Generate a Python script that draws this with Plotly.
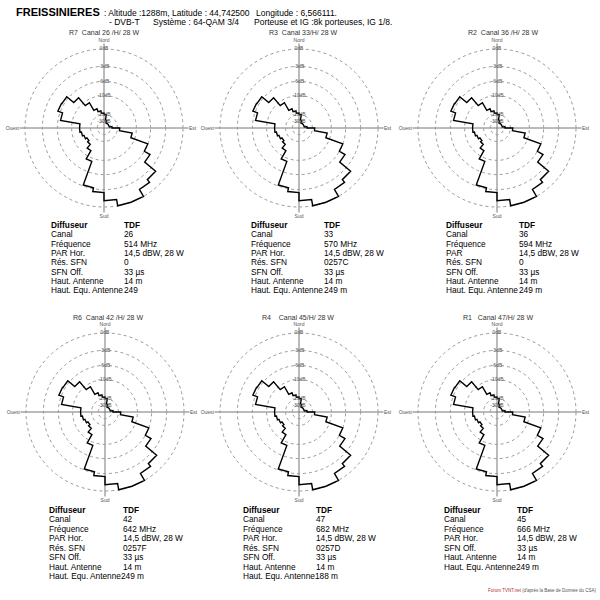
import numpy as np
import plotly.graph_objects as go

# ---------------- data ----------------
ring_db = [0, -3, -6, -10, -20, -30]
ring_labels = ["0dB", "-3dB", "-6dB", "-10dB", "-20dB", "-30dB"]
# display scale of the original diagram (dB -> relative radius)
scale_db = [-40, -30, -20, -10, -6, -3, 0]
scale_r = [0.0, 0.085, 0.17, 0.41, 0.59, 0.78, 1.0]

sector_start = list(range(0, 360, 10))
# horizontal pattern attenuation (dB) per 10 degree sector
pattern_db = [-20, -28, -32, -32, -32, -32, -32, -32, -28, -18.8,
              -12, -6, -4.7, -2, -1.4, 0, 0, -1.1,
              -2.5, -3.2, -9.1, -13.3, -15.8, -16.7, -15.8, -15, -14.2,
              -14.2, -6.7, -5.5, -5.6, -8, -11.7, -16.3, -17.9, -19.2]

titles = ["R7  Canal 26 /H/ 28 W", "R3  Canal 33/H/ 28 W", "R2  Canal 36 /H/ 28 W",
          "R6  Canal 42 /H/ 28 W", "R4    Canal 45/H/ 28 W", "R1   Canal 47/H/ 28 W"]

tables = [
    [("Diffuseur", "TDF"), ("Canal", "26"), ("Fréquence", "514 MHz"), ("PAR Hor.", "14,5 dBW, 28 W"),
     ("Rés. SFN", "0"), ("SFN Off.", "33 µs"), ("Haut. Antenne", "14 m"), ("Haut. Equ. Antenne", "249")],
    [("Diffuseur", "TDF"), ("Canal", "33"), ("Fréquence", "570 MHz"), ("PAR Hor.", "14,5 dBW, 28 W"),
     ("Rés. SFN", "0257C"), ("SFN Off.", "33 µs"), ("Haut. Antenne", "14 m"), ("Haut. Equ. Antenne", "249 m")],
    [("Diffuseur", "TDF"), ("Canal", "36"), ("Fréquence", "594 MHz"), ("PAR", "14,5 dBW, 28 W"),
     ("Rés. SFN", "0"), ("SFN Off.", "33 µs"), ("Haut. Antenne", "14 m"), ("Haut. Equ. Antenne", "249 m")],
    [("Diffuseur", "TDF"), ("Canal", "42"), ("Fréquence", "642 MHz"), ("PAR Hor.", "14,5 dBW, 28 W"),
     ("Rés. SFN", "0257F"), ("SFN Off.", "33 µs"), ("Haut. Antenne", "14 m"), ("Haut. Equ. Antenne", "249 m")],
    [("Diffuseur", "TDF"), ("Canal", "47"), ("Fréquence", "682 MHz"), ("PAR Hor.", "14,5 dBW, 28 W"),
     ("Rés. SFN", "0257D"), ("SFN Off.", "33 µs"), ("Haut. Antenne", "14 m"), ("Haut. Equ. Antenne", "188 m")],
    [("Diffuseur", "TDF"), ("Canal", "45"), ("Fréquence", "666 MHz"), ("PAR Hor.", "14,5 dBW, 28 W"),
     ("SFN Off.", "33 µs"), ("Haut. Antenne", "14 m"), ("Haut. Equ. Antenne", "249 m")],
]
# in the lower tables the last value is printed right after its label
joined_last = [False, False, False, True, True, True]

header_site = "FREISSINIERES"
header_line1 = [": Altitude :1288m, Latitude : 44,742500", "Longitude : 6,566111."]
header_line2 = ["- DVB-T", "Système : 64-QAM 3/4", "Porteuse et IG :8k porteuses, IG 1/8."]
footer_src = "Forum TVNT.net"
footer_txt = " (d'après la Base de Donnée du CSA)"

# ---------------- layout helpers ----------------
W = H = 600
centers = [(104, 128), (299, 128), (497, 128), (105, 412), (299, 412), (497, 412)]
R0 = 79          # pixel radius of the 0 dB ring
RMAX = 1.07      # radial range (axis lines extend slightly past 0 dB ring)
title_pos = [(104, 32), (303, 32), (503, 32), (108, 317), (298, 317), (498, 317)]
table_pos = [(50, 123, 225), (250, 323, 225), (445, 518, 225),
             (48, 122, 510), (242, 315, 510), (443, 516, 510)]
row_step = [9.3, 9.3, 9.3, 9.43, 9.43, 9.43]
FONT = "Liberation Sans"

ring_r = np.interp(ring_db, scale_db, scale_r)
r_vals = np.interp(pattern_db, scale_db, scale_r)
theta_stair = np.ravel([[s, s + 10] for s in sector_start])
r_stair = np.repeat(r_vals, 2)
theta_stair = np.append(theta_stair, theta_stair[0])
r_stair = np.append(r_stair, r_stair[0])

fig = go.Figure()
layout = dict(width=W, height=H, margin=dict(l=0, r=0, t=0, b=0),
              paper_bgcolor="white", plot_bgcolor="white", showlegend=False)


def ann(x, y, text, size, color="black", xanchor="left", family=FONT):
    return dict(x=x / W, y=1 - y / H, xref="paper", yref="paper", text=text,
                showarrow=False, xanchor=xanchor, yanchor="middle",
                align=xanchor if xanchor != "center" else "center",
                borderpad=0, font=dict(size=size, color=color, family=family))


annotations = []
for i, (cx, cy) in enumerate(centers):
    name = "polar" if i == 0 else f"polar{i+1}"
    Rp = R0 * RMAX
    dom = dict(x=[(cx - Rp) / W, (cx + Rp) / W], y=[1 - (cy + Rp) / H, 1 - (cy - Rp) / H])
    layout[name] = dict(
        domain=dom, bgcolor="rgba(0,0,0,0)",
        angularaxis=dict(rotation=90, direction="clockwise", tickmode="array",
                         tickvals=[0, 90, 180, 270], ticktext=["Nord", "Est", "Sud", "Ouest"],
                         showgrid=True, gridcolor="#777777", gridwidth=1, showline=False,
                         ticks="", tickfont=dict(size=5, color="#555555", family=FONT)),
        radialaxis=dict(range=[0, RMAX], tickmode="array", tickvals=list(ring_r),
                        showgrid=True, gridcolor="#999999", griddash="dot", gridwidth=1,
                        showline=False, ticks="", showticklabels=False),
    )
    fig.add_trace(go.Scatterpolar(r=r_stair, theta=theta_stair, mode="lines",
                                  line=dict(color="black", width=1.4), subplot=name,
                                  hoverinfo="skip"))
    fig.add_trace(go.Scatterpolar(r=ring_r, theta=[0] * len(ring_r), mode="text",
                                  text=ring_labels, textposition="middle center",
                                  textfont=dict(size=5, color="#555555", family=FONT),
                                  subplot=name, hoverinfo="skip"))
    tx, ty = title_pos[i]
    annotations.append(ann(tx, ty, titles[i], 7, "#333333", "center"))
    lx, vx, y0 = table_pos[i]
    rows = tables[i]
    for j, (lab, val) in enumerate(rows):
        yy = y0 + j * row_step[i]
        if j == 0:
            annotations.append(ann(lx, yy, f"<b>{lab}</b>", 8.3))
            annotations.append(ann(vx, yy, f"<b>{val}</b>", 8.3))
        elif joined_last[i] and j == len(rows) - 1:
            annotations.append(ann(lx, yy, lab + val, 8.3))
        else:
            annotations.append(ann(lx, yy, lab, 8.3))
            annotations.append(ann(vx, yy, val, 8.3))

annotations.append(ann(15, 12, f"<b>{header_site}</b>", 11))
annotations.append(ann(103, 12.5, header_line1[0], 8.5))
annotations.append(ann(255, 12.5, header_line1[1], 8.5))
annotations.append(ann(108, 21.5, header_line2[0], 8.5))
annotations.append(ann(152, 21.5, header_line2[1], 8.5))
annotations.append(ann(253, 21.5, header_line2[2], 8.5))
annotations.append(ann(598, 590, f"<span style='color:#b03030'>{footer_src}</span>{footer_txt}",
                       4.5, "#555555", "right"))

layout["annotations"] = annotations
fig.update_layout(**layout)
fig.write_html("out.html")
